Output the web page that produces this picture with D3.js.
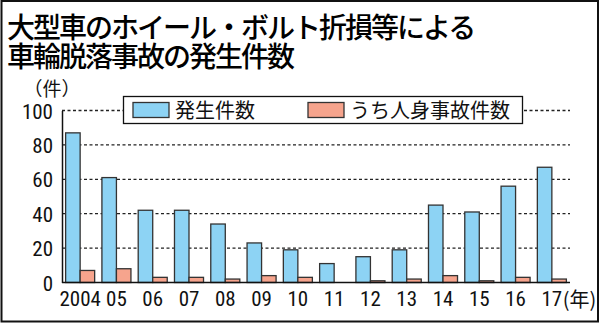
<!DOCTYPE html>
<html><head><meta charset="utf-8">
<script src="https://cdn.jsdelivr.net/npm/d3@7"></script>
<style>body{margin:0;background:#fff}</style>
</head><body>
<script>
const years = ["2004","05","06","07","08","09","10","11","12","13","14","15","16","17"];
const totalCounts = [87,61,42,42,34,23,19,11,15,19,45,41,56,67];
const injuryCounts = [7,8,3,3,2,4,3,0,1,2,4,1,3,2];
const yTicks = [0,20,40,60,80,100];
const seriesNames = ["発生件数","うち人身事故件数"];
const titleLines = ["大型車のホイール・ボルト折損等による","車輪脱落事故の発生件数"];
const colors = ["#8dd3f4","#f6a48d"];

const W=600,H=324;
const svg=d3.select("body").append("svg").attr("width",W).attr("height",H);
svg.append("rect").attr("x",1.5).attr("y",1).attr("width",596.5).attr("height",320.5)
  .attr("fill","#fff").attr("stroke","#111").attr("stroke-width",2);

const jp="'Noto Sans CJK JP','Noto Sans',sans-serif";
const num="'Liberation Sans Narrow','Roboto Condensed','Liberation Sans',sans-serif";

const title=svg.append("text").attr("font-family",jp).attr("font-size",28)
  .attr("font-weight",500).attr("fill","#000").attr("letter-spacing",-2);
titleLines.forEach((t,i)=>{
  title.append("tspan").attr("x",7).attr("y",38+i*29).text(t);
});

const x0=d3.scaleBand().domain(years).range([62,570]).paddingInner(0.2).paddingOuter(0.1);
const x1=d3.scaleBand().domain([0,1]).range([0,x0.bandwidth()]);
const y=d3.scaleLinear().domain([0,100]).range([282.5,110.5]);

// gridlines
svg.append("g").selectAll("line").data(yTicks.filter(d=>d>0)).join("line")
  .attr("x1",62).attr("x2",570).attr("y1",d=>y(d)).attr("y2",d=>y(d))
  .attr("stroke","#222").attr("stroke-width",1.3).attr("stroke-dasharray","3,2.5");

// y axis
const yAxis=d3.axisLeft(y).tickValues(yTicks).tickSize(0).tickPadding(9);
const ga=svg.append("g").attr("transform","translate(62,0)").call(yAxis);
ga.select(".domain").attr("stroke","#111").attr("stroke-width",1.5);
ga.selectAll("text").attr("font-family",num).attr("font-size",21).attr("fill","#111").attr("dy","0.36em");

svg.append("text").attr("x",52).attr("y",96).attr("text-anchor","middle").text("（件）")
  .attr("font-family",jp).attr("font-size",19).attr("fill","#111");

// bars
const data=years.map((yr,i)=>({yr,vals:[totalCounts[i],injuryCounts[i]]}));
const g=svg.append("g").selectAll("g").data(data).join("g")
  .attr("transform",d=>`translate(${x0(d.yr)},0)`);
g.selectAll("rect").data(d=>d.vals.map((v,k)=>({v,k}))).join("rect")
  .attr("x",d=>x1(d.k)).attr("width",x1.bandwidth())
  .attr("y",d=>y(d.v)).attr("height",d=>y(0)-y(d.v))
  .attr("fill",d=>colors[d.k]).attr("stroke",d=>d.v>0?"#333":"none").attr("stroke-width",1.3);

// x axis
const xAxis=d3.axisBottom(x0).tickSize(0).tickPadding(9);
const gx=svg.append("g").attr("transform",`translate(0,${y(0)})`).call(xAxis);
gx.select(".domain").attr("d","M62,0H570").attr("stroke","#111").attr("stroke-width",1.5);
gx.selectAll("text").attr("font-family",num).attr("font-size",21).attr("fill","#111");
svg.append("text").attr("x",x0("17")+x0.bandwidth()/2+11).attr("y",y(0)+24.5).text("(年)")
  .attr("font-family",jp).attr("font-size",20).attr("fill","#111");

// legend
const lg=svg.append("g");
lg.append("rect").attr("x",123.5).attr("y",96.5).attr("width",399).attr("height",27)
  .attr("fill","#fff").attr("stroke","#111").attr("stroke-width",1.3);
const lx=[133,308];
seriesNames.forEach((n,i)=>{
  lg.append("rect").attr("x",lx[i]).attr("y",102.5).attr("width",36).attr("height",15)
    .attr("fill",colors[i]).attr("stroke","#333").attr("stroke-width",1.3);
  lg.append("text").attr("x",lx[i]+42).attr("y",117.5).text(n)
    .attr("font-family",jp).attr("font-size",20).attr("fill","#111");
});
</script>
</body></html>
